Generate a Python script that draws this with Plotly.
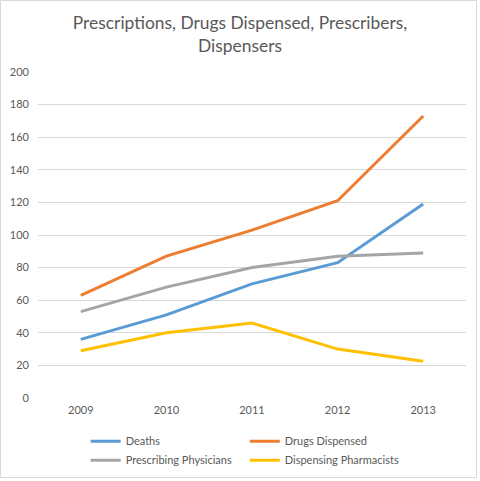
import plotly.graph_objects as go

years = ["2009", "2010", "2011", "2012", "2013"]
deaths = [36, 51, 70, 83, 119]
drugs_dispensed = [63, 87, 103, 121, 173]
prescribing_physicians = [53, 68, 80, 87, 89]
dispensing_pharmacists = [29, 40, 46, 30, 22.5]
y_ticks = list(range(0, 201, 20))

series = [
    ("Deaths", deaths, "#5B9BD5"),
    ("Drugs Dispensed", drugs_dispensed, "#ED7D31"),
    ("Prescribing Physicians", prescribing_physicians, "#A5A5A5"),
    ("Dispensing Pharmacists", dispensing_pharmacists, "#FFC000"),
]

W, H = 480, 481
ml, mr, mt, mb = 38, 14, 72, 83
pw, ph = W - ml - mr, H - mt - mb

fig = go.Figure()
for name, vals, color in series:
    fig.add_trace(go.Scatter(x=years, y=vals, name=name, mode="lines",
                             line=dict(color=color, width=3)))

fig.update_layout(
    width=W, height=H,
    margin=dict(l=ml, r=mr, t=mt, b=mb, autoexpand=False),
    paper_bgcolor="white", plot_bgcolor="white",
    font=dict(family="Lato, Carlito, sans-serif", color="#595959", size=11),
    title=dict(text="Prescriptions, Drugs Dispensed, Prescribers,<br>Dispensers",
               x=0.5, xanchor="center", y=0.939, yanchor="top",
               font=dict(size=17.4, color="#595959")),
    showlegend=True,
    legend=dict(orientation="h", x=0.484, xanchor="center", y=-0.088, yanchor="top",
                tracegroupgap=0,
                font=dict(size=11, color="#595959"), itemwidth=30),
    xaxis=dict(type="category", range=[-0.5, 4.5], showgrid=False, zeroline=False,
               showline=False, ticks="", ticklabelstandoff=4,
               tickfont=dict(size=11, color="#595959")),
    yaxis=dict(range=[0, 200], tickvals=y_ticks, showgrid=True, gridcolor="#D9D9D9",
               gridwidth=1, zeroline=False, showline=False, ticks="",
               ticklabelstandoff=8, tickfont=dict(size=11, color="#595959")),
)

fig.add_shape(type="rect", xref="paper", yref="paper",
              x0=-(ml - 0.5) / pw, x1=1 + (mr - 3.5) / pw,
              y0=-(mb - 3.5) / ph, y1=1 + (mt - 0.5) / ph,
              line=dict(color="#D9D9D9", width=1), layer="below")

fig.write_html("out.html", config={"displayModeBar": False},
               post_script="document.body.style.margin='0';document.body.style.overflow='hidden';")
